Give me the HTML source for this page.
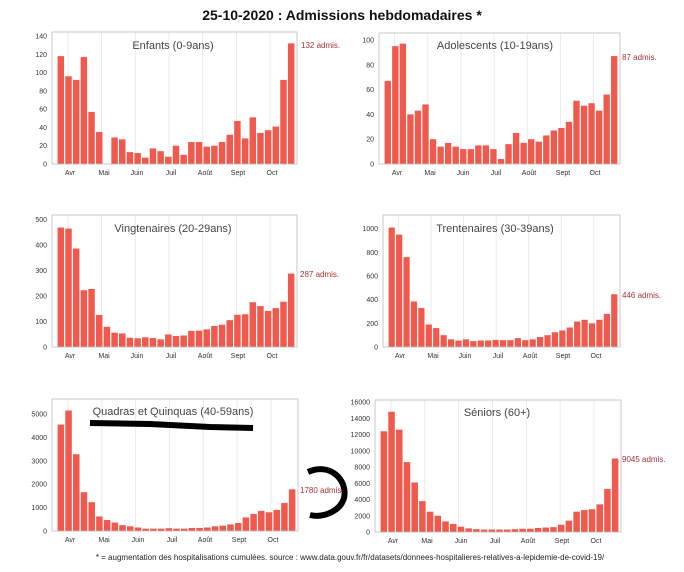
<!DOCTYPE html>
<html><head><meta charset="utf-8"><style>
html,body{margin:0;padding:0;background:#fff}
svg{display:block;font-family:"Liberation Sans",sans-serif}
.t{font-size:7px;fill:#333}
.m{font-size:7px;fill:#333;text-anchor:middle}
.y{font-size:7px;fill:#333;text-anchor:end}
.h{font-size:11px;fill:#444;text-anchor:middle}
.a{font-size:8px;fill:#a33}
</style></head><body>
<svg id="s" width="684" height="572" viewBox="0 0 684 572">
<g id="bars"></g>
<text x="342" y="20" text-anchor="middle" style="font-size:14px;font-weight:bold;fill:#111">25-10-2020 : Admissions hebdomadaires *</text>

<text class="h" x="173" y="49">Enfants (0-9ans)</text>
<text class="h" x="495" y="49">Adolescents (10-19ans)</text>
<text class="h" x="173" y="232">Vingtenaires (20-29ans)</text>
<text class="h" x="495" y="232">Trentenaires (30-39ans)</text>
<text class="h" x="173" y="415">Quadras et Quinquas (40-59ans)</text>
<text class="h" x="497" y="416">Séniors (60+)</text>

<text class="a" x="301" y="48">132 admis.</text>
<text class="a" x="622" y="60">87 admis.</text>
<text class="a" x="300" y="277">287 admis.</text>
<text class="a" x="622" y="298">446 admis.</text>
<text class="a" x="300" y="493">1780 admis.</text>
<text class="a" x="622" y="462">9045 admis.</text>

<g class="y">
<text x="47" y="166.5">0</text><text x="47" y="148.2">20</text><text x="47" y="129.9">40</text><text x="47" y="111.6">60</text><text x="47" y="93.4">80</text><text x="47" y="75.1">100</text><text x="47" y="56.8">120</text><text x="47" y="38.5">140</text>
<text x="374" y="166.5">0</text><text x="374" y="141.7">20</text><text x="374" y="116.9">40</text><text x="374" y="92.1">60</text><text x="374" y="67.3">80</text><text x="374" y="42.5">100</text>
<text x="47" y="349.5">0</text><text x="47" y="324">100</text><text x="47" y="298.4">200</text><text x="47" y="272.9">300</text><text x="47" y="247.3">400</text><text x="47" y="221.8">500</text>
<text x="378" y="349.5">0</text><text x="378" y="325.8">200</text><text x="378" y="302.2">400</text><text x="378" y="278.5">600</text><text x="378" y="254.8">800</text><text x="378" y="231.2">1000</text>
<text x="47" y="533.5">0</text><text x="47" y="510.1">1000</text><text x="47" y="486.7">2000</text><text x="47" y="463.3">3000</text><text x="47" y="439.9">4000</text><text x="47" y="416.5">5000</text>
<text x="370" y="534.5">0</text><text x="370" y="518.3">2000</text><text x="370" y="502">4000</text><text x="370" y="485.8">6000</text><text x="370" y="469.5">8000</text><text x="370" y="453.3">10000</text><text x="370" y="437">12000</text><text x="370" y="420.8">14000</text><text x="370" y="404.5">16000</text>
</g>

<g class="m">
<text x="70" y="175">Avr</text><text x="104" y="175">Mai</text><text x="137" y="175">Juin</text><text x="171" y="175">Juil</text><text x="205" y="175">Août</text><text x="238" y="175">Sept</text><text x="272" y="175">Oct</text>
<text x="397" y="175">Avr</text><text x="430" y="175">Mai</text><text x="463" y="175">Juin</text><text x="496" y="175">Juil</text><text x="529" y="175">Août</text><text x="563" y="175">Sept</text><text x="595" y="175">Oct</text>
<text x="70" y="358">Avr</text><text x="104" y="358">Mai</text><text x="137" y="358">Juin</text><text x="171" y="358">Juil</text><text x="205" y="358">Août</text><text x="238" y="358">Sept</text><text x="272" y="358">Oct</text>
<text x="400" y="358">Avr</text><text x="433" y="358">Mai</text><text x="465" y="358">Juin</text><text x="498" y="358">Juil</text><text x="530" y="358">Août</text><text x="563" y="358">Sept</text><text x="596" y="358">Oct</text>
<text x="70" y="542">Avr</text><text x="104" y="542">Mai</text><text x="138" y="542">Juin</text><text x="172" y="542">Juil</text><text x="205" y="542">Août</text><text x="239" y="542">Sept</text><text x="273" y="542">Oct</text>
<text x="393" y="543">Avr</text><text x="427" y="543">Mai</text><text x="461" y="543">Juin</text><text x="495" y="543">Juil</text><text x="528" y="543">Août</text><text x="562" y="543">Sept</text><text x="596" y="543">Oct</text>
</g>

<path d="M90 423 L150 424 L210 427 L253 428" stroke="#000" stroke-width="6" fill="none"/>
<path d="M308 472 C330 462 348 480 344 498 C340 512 322 518 310 515" stroke="#000" stroke-width="6" fill="none"/>

<text x="350" y="560" text-anchor="middle" style="font-size:8px;fill:#222">* = augmentation des hospitalisations cumulées. source : www.data.gouv.fr/fr/datasets/donnees-hospitalieres-relatives-a-lepidemie-de-covid-19/</text>
</svg>
<script>
var P=[
[52,245,32,164,144.4,[118,96,92,117,57,35,0,29,27,13,12,7,17,14,8,20,10,24,24,19,20,24,32,47,28,51,34,37,41,92,132]],
[379,241,33,164,105.6,[67,95,97,40,43,48,20,14,17,14,12,12,15,15,12,4,16,25,17,20,18,23,27,29,34,51,47,49,43,56,87]],
[52,245,215,347,516,[467,463,385,222,227,125,79,56,53,36,34,38,35,30,49,43,45,63,64,69,82,87,105,126,128,175,160,141,152,177,287]],
[383,237,215,347,1116,[1010,950,760,385,330,190,160,100,65,55,65,50,55,55,60,58,58,75,58,65,85,100,125,140,165,215,230,200,230,280,446]],
[52,246,399,531,5641,[4550,5150,3280,1660,1230,620,470,360,250,200,150,100,100,100,120,100,100,130,130,150,200,230,280,340,580,730,860,800,900,1200,1780]],
[375,246,400,532,16250,[12400,14800,12600,8600,6100,3800,2500,2000,1300,1000,650,450,350,300,300,300,300,350,400,400,500,550,600,900,1400,2500,2700,2800,3400,5300,9045]]
];
var h='';
P.forEach(function(p){
 var L=p[0],W=p[1],T=p[2],B=p[3],M=p[4],d=p[5],H=B-T;
 for(var i=0;i<7;i++){var x=L+W*(0.065+i*0.1375);h+='<line x1="'+x+'" y1="'+T+'" x2="'+x+'" y2="'+B+'" stroke="#e6e6e6" stroke-width="0.8"/>';}
 var x0=L+5,pw=(W-7)/31;
 d.forEach(function(v,i){var bh=v/M*H;h+='<rect x="'+(x0+i*pw+0.6)+'" y="'+(B-bh)+'" width="'+(pw-1.2)+'" height="'+bh+'" fill="#f05a4e"/>';});
 h+='<rect x="'+L+'" y="'+T+'" width="'+W+'" height="'+H+'" fill="none" stroke="#bbb" stroke-width="0.8"/>';
});
document.getElementById('bars').innerHTML=h;
</script>
</body></html>
